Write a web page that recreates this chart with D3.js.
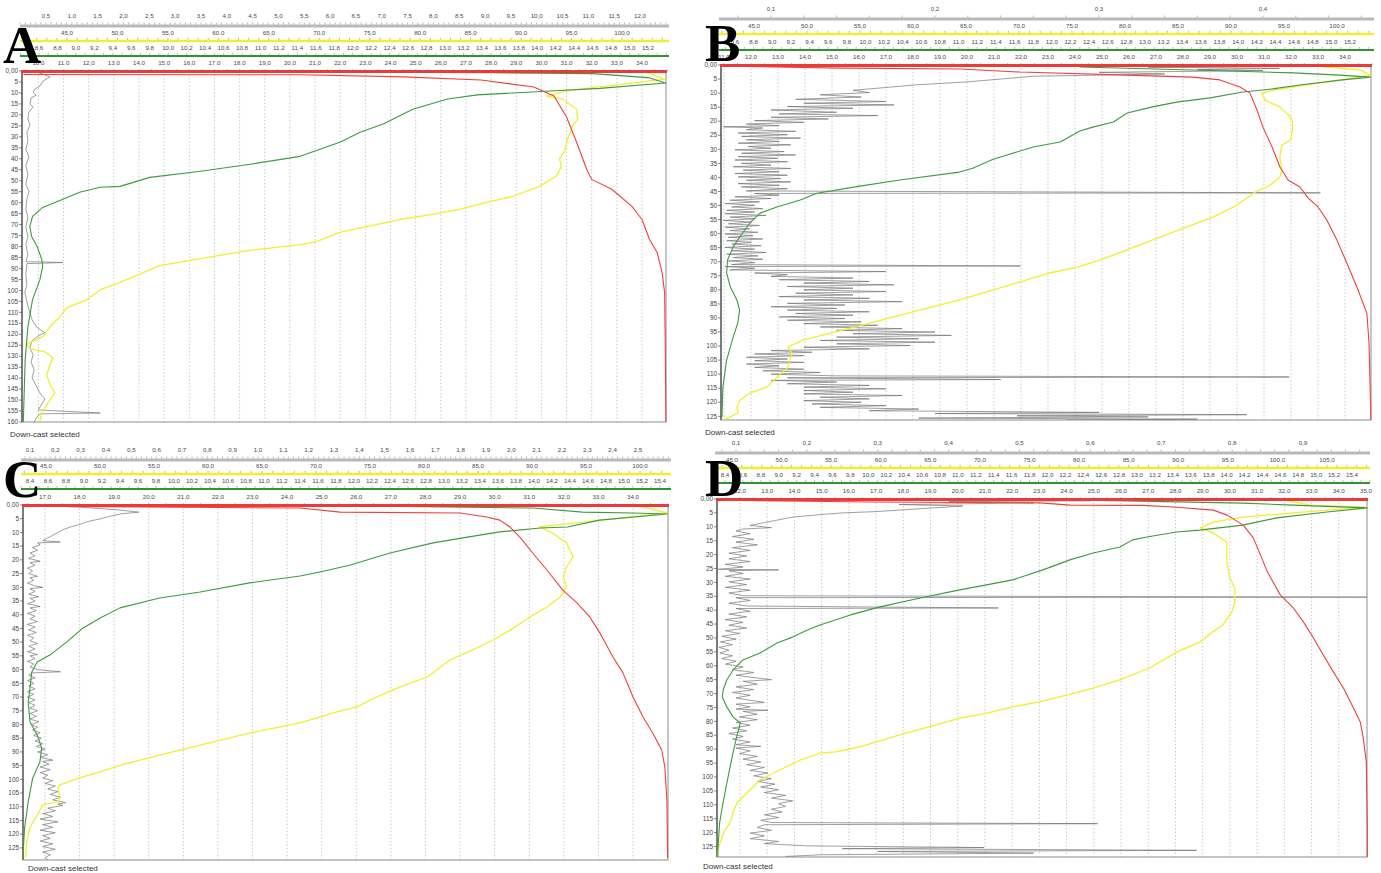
<!DOCTYPE html>
<html>
<head>
<meta charset="utf-8">
<script src="https://cdn.jsdelivr.net/npm/d3@7"></script>
<style>
  html, body { margin: 0; background: #fff; }
  svg { display: block; }
</style>
</head>
<body>
<svg id="chart" width="1381" height="873"></svg>
<script>
// ── Tick labels ───────────────────────────────────────────────────────────────
const temp86Ticks = [8.6,8.8,9.0,9.2,9.4,9.6,9.8,10.0,10.2,10.4,10.6,10.8,11.0,11.2,11.4,11.6,11.8,12.0,12.2,12.4,12.6,12.8,13.0,13.2,13.4,13.6,13.8,14.0,14.2,14.4,14.6,14.8,15.0,15.2];
const temp84Ticks = [8.4,8.6,8.8,9.0,9.2,9.4,9.6,9.8,10.0,10.2,10.4,10.6,10.8,11.0,11.2,11.4,11.6,11.8,12.0,12.2,12.4,12.6,12.8,13.0,13.2,13.4,13.6,13.8,14.0,14.2,14.4,14.6,14.8,15.0,15.2,15.4];
const oxy100Ticks = [45,50,55,60,65,70,75,80,85,90,95,100];
const oxy105Ticks = [45,50,55,60,65,70,75,80,85,90,95,100,105];
const depth160Ticks = [0,5,10,15,20,25,30,35,40,45,50,55,60,65,70,75,80,85,90,95,100,105,110,115,120,125,130,135,140,145,150,155,160];
const depth125Ticks = [0,5,10,15,20,25,30,35,40,45,50,55,60,65,70,75,80,85,90,95,100,105,110,115,120,125];

const aTurbTicks = [0.5,1.0,1.5,2.0,2.5,3.0,3.5,4.0,4.5,5.0,5.5,6.0,6.5,7.0,7.5,8.0,8.5,9.0,9.5,10.0,10.5,11.0,11.5,12.0];
const aSalTicks = [10,11,12,13,14,15,16,17,18,19,20,21,22,23,24,25,26,27,28,29,30,31,32,33,34];
const bTurbTicks = [0.1,0.2,0.3,0.4];
const bSalTicks = [11,12,13,14,15,16,17,18,19,20,21,22,23,24,25,26,27,28,29,30,31,32,33,34];
const cTurbTicks = [0.1,0.2,0.3,0.4,0.5,0.6,0.7,0.8,0.9,1.0,1.1,1.2,1.3,1.4,1.5,1.6,1.7,1.8,1.9,2.0,2.1,2.2,2.3,2.4,2.5];
const cSalTicks = [17,18,19,20,21,22,23,24,25,26,27,28,29,30,31,32,33,34];
const dTurbTicks = [0.1,0.2,0.3,0.4,0.5,0.6,0.7,0.8,0.9];
const dSalTicks = [12,13,14,15,16,17,18,19,20,21,22,23,24,25,26,27,28,29,30,31,32,33,34,35];

// ── Profiles: [depth m, value] ───────────────────────────────────────────────
// Panel A
const aSal = [[1.6,9.4],[1.7,20.4],[2.7,24.5],[4.1,27.6],[7.3,29.7],[11.4,30.5],[21.0,31.0],[32.5,31.4],[44.8,31.8],[49.4,32.0],[53.9,32.8],[61.7,33.6],[67.7,34.0],[76.8,34.3],[82.7,34.6],[91.9,34.8],[101,34.9],[130,34.93],[160,34.95]];
const aTemp = [[0.6,12.1],[0.8,13.5],[1.2,14.6],[3.0,15.2],[5.5,15.39],[7.9,14.68],[9.1,14.14],[10.9,13.35],[12.8,13.03],[17.4,12.65],[24.2,12.33],[27.9,12.08],[32.5,11.86],[38.9,11.43],[42.5,10.89],[45.7,10.35],[48.5,9.80],[52.6,9.48],[53.0,9.26],[55.3,9.04],[58.5,8.86],[62.2,8.64],[66.3,8.53],[70.9,8.50],[75.4,8.52],[80.0,8.58],[85.9,8.63],[89.1,8.64],[95.1,8.61],[104.2,8.53],[116.6,8.48],[131.7,8.45],[160,8.43]];
const aOxy = [[0.5,102.4],[3.7,104.2],[9.1,94.5],[11.4,92.5],[12.8,94.1],[17.4,95.5],[21.9,95.6],[25.1,95.1],[31.1,94.6],[36.6,94.3],[40.2,93.8],[43.4,94.0],[48.0,93.5],[52.6,91.8],[57.1,89.2],[59.9,86.6],[63.1,83.9],[65.4,81.2],[67.7,78.0],[70.9,74.7],[73.6,72.0],[77.7,69.8],[79.1,68.1],[81.8,63.1],[85.5,58.2],[88.7,54.2],[96.5,50.2],[99.7,48.3],[104.2,47.0],[107.9,45.0],[112.0,44.3],[116.6,43.3],[121.1,42.6],[124.5,41.0],[126.6,41.3],[128.0,42.8],[130.7,43.6],[134.0,43.3],[138.5,43.0],[143.0,43.3],[146.7,43.8],[151.3,43.1],[156.0,42.5],[160,42.3]];
const aTurb = [[0.5,0.33],[2.7,0.58],[4.6,0.44],[6.9,0.38],[8.2,0.29],[9.6,0.25],[11.0,0.31],[12.3,0.21],[15.1,0.19],[16.5,0.25],[18.7,0.17],[21.9,0.15],[24.7,0.19],[27.9,0.13],[32.0,0.15],[35.7,0.11],[39.3,0.17],[43.0,0.11],[47.1,0.15],[51.7,0.11],[54.9,0.17],[58.5,0.13],[63.1,0.11],[66.7,0.15],[71.3,0.11],[75.4,0.15],[79.1,0.11],[83.7,0.15],[86.9,0.11],[87.3,0.83],[87.8,0.13],[92.8,0.11],[97.4,0.13],[101.0,0.09],[105.1,0.13],[108.8,0.17],[113.4,0.23],[117.0,0.33],[119.3,0.48],[120.7,0.35],[123.0,0.23],[126.2,0.19],[129.4,0.25],[132.6,0.21],[136.2,0.27],[139.9,0.23],[143.5,0.31],[146.7,0.38],[149.5,0.48],[151.8,0.42],[154.5,0.35],[155.9,1.55],[156.3,0.38],[158.2,0.31],[160,0.27]];

// Panel B
const bSal = [[0.4,10.93],[1.1,15.3],[1.4,19.74],[2.5,21.96],[3.6,25.93],[4.3,28.37],[5.3,29.37],[7.8,30.11],[10.0,30.48],[16.0,30.74],[22.1,30.96],[29.2,31.30],[36.3,31.59],[40.9,31.89],[43.4,32.33],[47.3,32.63],[50.5,33.0],[55.2,33.33],[62.3,33.70],[70.5,34.07],[79.0,34.44],[88.3,34.81],[98.9,34.89],[126.3,34.96]];
const bTemp = [[0.7,12.30],[1.8,13.51],[2.8,14.59],[3.6,15.09],[4.3,15.42],[5.3,15.12],[7.1,14.66],[8.5,14.37],[9.6,14.05],[11.7,13.70],[13.2,13.34],[14.9,13.08],[17.1,12.81],[20.3,12.66],[22.1,12.44],[23.5,12.30],[27.4,12.09],[29.2,11.80],[32.0,11.52],[33.5,11.37],[36.7,11.15],[38.1,11.01],[40.9,10.37],[43.1,9.94],[45.6,9.48],[48.0,9.30],[50.5,9.05],[52.7,8.87],[56.2,8.76],[61.2,8.65],[64.8,8.58],[69.4,8.52],[74.0,8.51],[79.0,8.55],[83.6,8.62],[87.2,8.65],[91.8,8.63],[96.8,8.58],[105.0,8.51],[114.6,8.47],[125.3,8.46]];
const bOxy = [[0.7,98.7],[1.8,102.2],[3.6,103.2],[8.9,94.0],[10.0,92.9],[12.5,93.2],[14.9,94.6],[18.5,95.6],[20.3,95.8],[23.1,95.8],[26.7,95.6],[28.5,94.8],[32.7,94.6],[37.4,94.8],[39.9,94.6],[42.7,93.7],[45.6,92.1],[49.8,90.6],[54.1,88.3],[57.7,85.8],[61.2,83.3],[65.8,80.2],[69.4,77.6],[71.9,75.5],[74.0,72.9],[77.2,70.1],[80.1,67.5],[83.6,64.4],[89.0,58.8],[93.6,54.1],[97.9,49.6],[100.4,48.2],[102.5,48.6],[107.5,48.2],[111.0,47.2],[114.6,46.2],[116.7,44.6],[119.2,43.7],[121.7,43.4],[123.8,43.5],[125.3,42.7],[126.3,42.1]];
const bTurb = [[0.4,0.44],[0.8,0.33],[1.2,0.41],[1.6,0.36],[2.0,0.40],[2.6,0.30],[3.2,0.34],[4.0,0.26],[5.0,0.24],[6.0,0.22],[7.0,0.19],[8.0,0.17],[9.0,0.15],[9.8,0.16],[10.6,0.13],[11.4,0.155],[12.2,0.115],[13.0,0.17],[13.6,0.12],[14.2,0.175],[14.8,0.11],[15.4,0.15],[16.0,0.10],[16.8,0.14],[17.4,0.105],[18.0,0.165],[18.6,0.10],[19.2,0.135],[19.8,0.09],[20.4,0.12],[21.0,0.085],[21.6,0.105],[22.0,0.071],[22.4,0.095],[23.0,0.085],[23.6,0.115],[24.2,0.08],[24.8,0.11],[25.4,0.082],[26.0,0.118],[26.6,0.085],[27.2,0.105],[27.8,0.08],[28.4,0.112],[29.0,0.086],[29.6,0.10],[30.2,0.078],[30.8,0.108],[31.4,0.082],[32.0,0.115],[32.6,0.08],[33.2,0.104],[33.8,0.078],[34.4,0.11],[35.0,0.082],[35.6,0.10],[36.2,0.077],[36.8,0.112],[37.4,0.083],[38.0,0.105],[38.6,0.078],[39.2,0.11],[39.8,0.08],[40.4,0.106],[41.0,0.085],[41.6,0.112],[42.2,0.08],[42.8,0.105],[43.4,0.082],[44.0,0.11],[44.8,0.085],[45.5,0.435],[45.7,0.09],[46.3,0.105],[46.9,0.078],[47.5,0.10],[48.1,0.075],[48.7,0.093],[49.3,0.072],[49.9,0.09],[50.5,0.076],[51.1,0.095],[51.7,0.073],[52.3,0.09],[52.9,0.072],[53.5,0.097],[54.1,0.075],[54.7,0.09],[55.3,0.071],[55.9,0.088],[56.5,0.074],[57.1,0.093],[57.7,0.072],[58.3,0.087],[58.9,0.075],[59.5,0.092],[60.1,0.072],[60.7,0.089],[61.3,0.074],[61.9,0.095],[62.5,0.073],[63.1,0.088],[63.7,0.076],[64.3,0.094],[64.9,0.072],[65.5,0.09],[66.1,0.076],[66.7,0.097],[67.3,0.073],[67.9,0.092],[68.5,0.077],[69.1,0.095],[69.7,0.074],[70.3,0.09],[71.0,0.076],[71.5,0.252],[71.7,0.072],[72.3,0.09],[72.9,0.075],[73.5,0.17],[74.0,0.09],[74.6,0.11],[75.2,0.10],[75.8,0.15],[76.4,0.105],[77.0,0.16],[77.6,0.12],[78.2,0.175],[78.8,0.11],[79.4,0.15],[80.0,0.12],[80.6,0.17],[81.2,0.115],[81.8,0.15],[82.4,0.105],[83.0,0.16],[83.6,0.12],[84.2,0.18],[84.8,0.11],[85.4,0.145],[86.0,0.10],[86.6,0.14],[87.2,0.11],[87.8,0.16],[88.4,0.115],[89.0,0.15],[89.6,0.105],[90.2,0.145],[90.8,0.11],[91.4,0.155],[92.0,0.12],[92.6,0.165],[93.2,0.13],[93.8,0.18],[94.4,0.14],[95.0,0.20],[95.6,0.15],[96.2,0.21],[96.8,0.14],[97.4,0.19],[98.0,0.13],[98.6,0.20],[99.2,0.14],[99.8,0.185],[100.4,0.12],[101.0,0.16],[101.6,0.10],[102.2,0.125],[102.8,0.09],[103.4,0.12],[104.0,0.085],[104.6,0.11],[105.2,0.09],[105.8,0.12],[106.4,0.085],[107.0,0.105],[107.6,0.09],[108.2,0.12],[108.8,0.095],[109.4,0.13],[110.0,0.10],[110.6,0.14],[111.0,0.416],[111.3,0.11],[111.9,0.24],[112.2,0.10],[112.8,0.14],[113.4,0.11],[114.0,0.16],[114.6,0.12],[115.2,0.17],[115.8,0.12],[116.4,0.15],[117.0,0.12],[117.6,0.18],[118.2,0.13],[118.8,0.16],[119.4,0.12],[120.0,0.155],[120.6,0.125],[121.2,0.17],[121.8,0.13],[122.4,0.19],[123.0,0.16],[123.6,0.30],[124.0,0.20],[124.4,0.39],[124.8,0.25],[125.2,0.33],[125.6,0.19],[126.0,0.36],[126.3,0.28]];

// Panel C
const cSal = [[0.4,16.36],[1.1,24.37],[2.6,25.53],[2.9,29.0],[4.4,29.77],[5.5,30.15],[8.0,30.44],[11.7,30.73],[17.5,31.10],[23.7,31.51],[31.0,31.97],[35.7,32.38],[40.8,32.75],[46.6,33.04],[55.4,33.42],[61.2,33.71],[70.0,34.0],[77.3,34.29],[83.1,34.57],[89.3,34.83],[95.5,34.92],[107.5,34.98],[128.6,35.0]];
const cTemp = [[0.4,12.32],[1.1,13.99],[2.6,14.54],[2.9,15.10],[3.3,15.48],[5.5,14.73],[8.0,14.37],[8.4,14.07],[9.8,13.62],[11.7,13.26],[13.8,12.88],[17.5,12.40],[21.9,11.96],[24.4,11.62],[25.9,11.40],[28.4,10.84],[31.7,10.29],[33.9,9.84],[37.5,9.40],[41.2,9.18],[44.8,8.99],[49.9,8.81],[54.7,8.62],[57.2,8.48],[60.9,8.42],[66.7,8.40],[71.8,8.38],[79.1,8.40],[83.8,8.48],[88.6,8.53],[93.7,8.51],[99.5,8.43],[108.2,8.38],[117.7,8.34],[128.6,8.32]];
const cOxy = [[0.0,96.3],[0.7,100.3],[2.9,102.5],[8.0,90.7],[10.2,91.9],[13.8,93.2],[19.0,93.8],[22.6,93.2],[26.2,92.9],[29.9,93.2],[33.5,92.6],[37.2,91.4],[40.8,89.8],[45.6,88.0],[49.2,86.4],[52.8,84.5],[56.5,82.4],[62.7,80.3],[66.3,77.8],[70.0,75.6],[73.6,73.8],[75.8,71.6],[77.6,70.1],[79.4,68.5],[83.1,63.9],[87.5,59.3],[91.1,55.6],[94.8,51.9],[97.3,50.0],[99.5,48.1],[102.0,46.3],[103.1,46.1],[106.8,46.3],[108.2,46.1],[109.3,44.7],[113.0,44.2],[115.5,43.8],[117.7,43.5],[122.8,43.2],[128.6,43.1]];
const cTurb = [[0.2,0.15],[0.8,0.30],[1.8,0.45],[2.6,0.53],[3.2,0.46],[4.0,0.42],[5.0,0.38],[6.0,0.33],[7.0,0.30],[8.0,0.26],[9.0,0.23],[10.0,0.21],[11.0,0.19],[12.0,0.17],[13.0,0.15],[13.5,0.22],[13.8,0.13],[14.5,0.14],[15.5,0.11],[16.5,0.13],[17.5,0.10],[18.5,0.12],[19.5,0.095],[20.5,0.14],[21.0,0.10],[22.0,0.12],[23.0,0.09],[24.0,0.11],[25.0,0.095],[26.0,0.13],[26.5,0.10],[27.5,0.115],[28.5,0.09],[29.5,0.12],[30.0,0.15],[30.5,0.10],[31.5,0.12],[32.5,0.095],[33.5,0.135],[34.0,0.10],[35.0,0.12],[36.0,0.09],[37.0,0.14],[37.5,0.10],[38.5,0.125],[39.5,0.09],[40.5,0.12],[41.5,0.10],[42.5,0.13],[43.5,0.09],[44.5,0.12],[45.5,0.095],[46.5,0.125],[47.5,0.09],[48.5,0.115],[49.5,0.10],[50.5,0.13],[51.5,0.095],[52.5,0.12],[53.5,0.09],[54.5,0.13],[55.0,0.10],[56.0,0.12],[57.0,0.09],[58.0,0.115],[59.0,0.10],[60.0,0.13],[60.8,0.22],[61.2,0.11],[62.0,0.095],[63.0,0.12],[64.0,0.09],[65.0,0.115],[66.0,0.095],[67.0,0.12],[68.0,0.09],[69.0,0.115],[70.0,0.09],[71.0,0.12],[72.0,0.095],[73.0,0.12],[74.0,0.10],[75.0,0.13],[76.0,0.10],[77.0,0.125],[78.0,0.10],[79.0,0.135],[80.0,0.105],[81.0,0.13],[82.0,0.11],[83.0,0.14],[84.0,0.115],[85.0,0.145],[86.0,0.12],[87.0,0.15],[88.0,0.125],[89.0,0.16],[90.0,0.13],[91.0,0.17],[92.0,0.14],[93.0,0.19],[93.5,0.15],[94.5,0.175],[95.5,0.14],[96.5,0.18],[97.5,0.14],[98.5,0.17],[99.5,0.15],[100.5,0.19],[101.5,0.16],[102.5,0.20],[103.5,0.17],[104.5,0.21],[105.5,0.18],[106.5,0.22],[107.5,0.19],[108.5,0.24],[109.0,0.21],[109.5,0.23],[110.5,0.17],[111.5,0.20],[112.5,0.15],[113.5,0.19],[114.5,0.14],[115.5,0.21],[116.5,0.15],[117.5,0.19],[118.5,0.14],[119.5,0.20],[120.5,0.15],[121.5,0.18],[122.5,0.14],[123.5,0.19],[124.5,0.15],[125.5,0.20],[126.5,0.15],[127.5,0.18],[128.5,0.16],[129.3,0.17]];

// Panel D
const dSal = [[0.4,11.15],[1.1,16.78],[1.4,23.03],[2.2,24.13],[2.3,26.82],[2.9,27.92],[4.0,29.39],[5.8,29.90],[9.4,30.49],[14.0,30.86],[20.1,31.12],[26.3,31.38],[34.5,31.85],[39.2,32.33],[44.2,32.70],[50.0,33.07],[56.1,33.43],[62.2,33.80],[68.0,34.17],[75.2,34.54],[80.2,34.79],[86.0,34.90],[94.6,35.01],[118.3,35.05],[128.8,35.05]];
const dTemp = [[0.4,12.44],[1.5,14.18],[2.2,14.74],[3.2,15.57],[4.7,15.12],[6.8,14.56],[9.4,14.18],[11.2,13.70],[11.9,13.44],[13.7,13.11],[14.7,12.95],[17.3,12.81],[19.4,12.51],[21.9,12.25],[25.5,11.95],[29.1,11.61],[30.9,11.32],[32.7,11.02],[35.6,10.58],[38.8,10.13],[41.7,9.80],[45.3,9.46],[47.1,9.32],[49.6,9.16],[51.8,8.98],[55.4,8.79],[57.9,8.60],[61.5,8.49],[65.1,8.42],[68.7,8.38],[71.2,8.37],[74.8,8.42],[78.4,8.49],[80.6,8.57],[85.6,8.53],[92.8,8.48],[102.2,8.42],[110.8,8.37],[116.5,8.34],[126.3,8.32],[128.8,8.32]];
const dOxy = [[0.0,100.2],[2.2,103.3],[2.9,109.0],[5.0,101.6],[6.5,96.5],[8.3,93.5],[10.4,92.2],[12.2,93.5],[15.5,94.9],[22.7,94.9],[28.4,95.2],[32.0,95.7],[37.1,95.7],[40.6,95.4],[45.3,94.5],[47.8,93.5],[51.4,92.2],[55.0,89.9],[60.8,87.1],[65.1,84.1],[68.0,81.4],[70.5,78.8],[73.0,76.0],[74.8,73.3],[77.0,70.7],[78.8,68.0],[84.9,61.9],[89.2,57.9],[90.3,56.4],[91.0,55.4],[91.4,53.9],[93.9,51.9],[97.5,49.8],[101.1,47.8],[105.8,46.5],[109.4,45.5],[112.9,45.1],[116.5,44.8],[119.1,44.3],[121.6,44.0],[123.7,43.8],[126.3,43.6],[128.8,43.5]];
const dTurb = [[0.3,0.30],[0.6,0.60],[1.0,0.40],[1.4,0.52],[2.0,0.33],[2.5,0.42],[3.5,0.36],[4.5,0.30],[5.0,0.25],[5.6,0.22],[6.5,0.18],[7.5,0.16],[8.5,0.14],[9.5,0.12],[10.3,0.15],[10.8,0.11],[11.5,0.10],[12.5,0.12],[13.5,0.095],[14.5,0.125],[15.5,0.10],[16.5,0.13],[17.5,0.095],[18.5,0.12],[19.5,0.09],[20.5,0.115],[21.5,0.09],[22.5,0.12],[23.5,0.085],[24.5,0.11],[25.3,0.075],[25.5,0.16],[25.8,0.09],[26.8,0.11],[27.8,0.085],[28.8,0.12],[29.8,0.09],[30.8,0.115],[31.8,0.085],[32.8,0.12],[33.8,0.09],[34.8,0.11],[35.3,0.99],[35.5,0.10],[36.5,0.12],[37.5,0.09],[38.5,0.115],[39.2,0.47],[39.4,0.10],[40.4,0.12],[41.4,0.09],[42.4,0.115],[43.4,0.085],[44.4,0.11],[45.4,0.09],[46.4,0.115],[47.4,0.085],[48.4,0.105],[49.4,0.08],[50.4,0.10],[51.4,0.078],[52.4,0.095],[53.4,0.076],[54.4,0.09],[55.4,0.077],[56.4,0.095],[57.4,0.08],[58.4,0.10],[59.4,0.085],[60.4,0.11],[61.4,0.095],[62.4,0.125],[63.4,0.10],[64.4,0.13],[65.0,0.15],[65.6,0.11],[66.6,0.13],[67.6,0.10],[68.6,0.125],[69.6,0.095],[70.6,0.12],[71.6,0.10],[72.6,0.125],[73.2,0.14],[73.8,0.10],[74.8,0.12],[75.6,0.10],[76.0,0.145],[76.4,0.11],[77.4,0.13],[78.4,0.105],[79.4,0.13],[80.4,0.10],[81.4,0.12],[82.4,0.095],[83.4,0.115],[84.4,0.09],[85.4,0.11],[86.4,0.095],[87.4,0.12],[88.4,0.10],[89.0,0.135],[89.6,0.10],[90.6,0.12],[91.6,0.105],[92.6,0.13],[93.6,0.11],[94.6,0.135],[95.6,0.115],[96.6,0.14],[97.6,0.12],[98.6,0.145],[99.6,0.125],[100.6,0.15],[101.6,0.13],[102.6,0.155],[103.6,0.135],[104.6,0.16],[105.6,0.14],[106.6,0.17],[107.6,0.15],[108.6,0.18],[109.6,0.16],[110.6,0.17],[111.6,0.15],[112.6,0.165],[113.6,0.14],[114.6,0.16],[115.6,0.135],[116.4,0.15],[116.8,0.61],[117.2,0.14],[118.2,0.13],[119.2,0.15],[120.2,0.12],[121.2,0.14],[122.2,0.12],[123.2,0.16],[124.0,0.14],[124.8,0.20],[125.4,0.45],[125.8,0.25],[126.4,0.75],[126.8,0.30],[127.4,0.52],[128.0,0.22],[128.6,0.17]];

// ── Panel layout (pixel frames + two-point scale anchors [v1, px1, v2, px2]) ──
const panels = [
  { letter: "A", x0: 22, x1: 666, top: 71, bottom: 422, depthMax: 160, greyY: 26, yellowY: 41, greenY: 56,
    salA: [10, 38.4, 34, 642], tempA: [8.6, 39, 15.2, 648], oxyA: [45, 67, 100, 622], turbA: [0.5, 46, 12, 640],
    salTicks: aSalTicks, tempTicks: temp86Ticks, oxyTicks: oxy100Ticks, turbTicks: aTurbTicks, depthTicks: depth160Ticks,
    sal: aSal, temp: aTemp, oxy: aOxy, turb: aTurb, letterX: 3, letterY: 63, capX: 10, capY: 437 },
  { letter: "B", x0: 721, x1: 1371, top: 65, bottom: 420, depthMax: 126.3, greyY: 19, yellowY: 34, greenY: 50,
    salA: [12, 751, 34, 1345], tempA: [8.6, 735, 15.2, 1350], oxyA: [45, 754, 100, 1337], turbA: [0.1, 771, 0.4, 1263],
    salTicks: bSalTicks, tempTicks: temp86Ticks, oxyTicks: oxy100Ticks, turbTicks: bTurbTicks, depthTicks: depth125Ticks,
    sal: bSal, temp: bTemp, oxy: bOxy, turb: bTurb, letterX: 705, letterY: 61, capX: 705, capY: 435 },
  { letter: "C", x0: 23, x1: 668, top: 505, bottom: 860, depthMax: 129.4, greyY: 460, yellowY: 474, greenY: 489,
    salA: [17, 45, 34, 633], tempA: [8.4, 30, 15.4, 660], oxyA: [45, 46, 100, 640], turbA: [0.1, 30, 2.5, 638],
    salTicks: cSalTicks, tempTicks: temp84Ticks, oxyTicks: oxy100Ticks, turbTicks: cTurbTicks, depthTicks: depth125Ticks,
    sal: cSal, temp: cTemp, oxy: cOxy, turb: cTurb, letterX: 3, letterY: 497, capX: 28, capY: 871 },
  { letter: "D", x0: 717, x1: 1367, top: 499, bottom: 857, depthMax: 128.8, greyY: 453, yellowY: 468, greenY: 483,
    salA: [12, 740, 35, 1366], tempA: [8.4, 725, 15.4, 1352], oxyA: [45, 732, 105, 1327], turbA: [0.1, 736, 0.9, 1303],
    salTicks: dSalTicks, tempTicks: temp84Ticks, oxyTicks: oxy105Ticks, turbTicks: dTurbTicks, depthTicks: depth125Ticks,
    sal: dSal, temp: dTemp, oxy: dOxy, turb: dTurb, letterX: 705, letterY: 496, capX: 703, capY: 869 },
];

const COLORS = { sal: "#ee4040", temp: "#3f9a3f", oxy: "#f2ee2e", turb: "#707070", axisGrey: "#b9b9b9" };
const FONT = "'Liberation Sans', Arial, sans-serif";

const svg = d3.select("#chart");
const comma = (v) => d3.format(".1f")(v).replace(".", ",");
const anchorScale = (a) => d3.scaleLinear().domain([a[0], a[2]]).range([a[1], a[3]]);

// one coloured top axis: tick marks, coloured line, labels above
function drawRow(g, p, scale, ticks, y, color, width, labelGap, minorStep) {
  const xa = p.x0 - 2, xb = p.x1 + 3;
  const lo = scale.invert(xa), hi = scale.invert(xb);
  const minors = d3.range(Math.ceil(lo / minorStep) * minorStep, hi, minorStep);
  if (color) {
    g.append("line").attr("x1", xa).attr("x2", xb).attr("y1", y).attr("y2", y)
      .attr("stroke", color).attr("stroke-width", width);
  }
  g.append("g").selectAll("line").data(minors).join("line")
    .attr("x1", (d) => scale(d)).attr("x2", (d) => scale(d))
    .attr("y1", y - width / 2 - 2).attr("y2", y - width / 2)
    .attr("stroke", "#8c8c8c").attr("stroke-width", 0.6);
  g.append("g").selectAll("text").data(ticks).join("text")
    .attr("x", (d) => scale(d)).attr("y", y - labelGap)
    .attr("text-anchor", "middle").attr("font-family", FONT)
    .attr("font-size", 6.2).attr("fill", "#4a4a4a")
    .text(comma);
}

function drawPanel(p, i) {
  const g = svg.append("g").attr("class", "panel-" + p.letter);
  const sal = anchorScale(p.salA);
  const temp = anchorScale(p.tempA);
  const oxy = anchorScale(p.oxyA);
  const turb = anchorScale(p.turbA);
  const depth = d3.scaleLinear().domain([0, p.depthMax]).range([p.top, p.bottom]);

  // ── Dotted salinity grid
  g.append("g").selectAll("line")
    .data(p.salTicks.filter((v) => sal(v) > p.x0 + 2 && sal(v) < p.x1 - 2))
    .join("line")
    .attr("x1", (d) => sal(d)).attr("x2", (d) => sal(d))
    .attr("y1", p.top).attr("y2", p.bottom)
    .attr("stroke", "#bdbdbd").attr("stroke-width", 0.8)
    .attr("stroke-dasharray", "1.5,2");

  // ── Plot frame
  g.append("rect").attr("x", p.x0).attr("y", p.top)
    .attr("width", p.x1 - p.x0).attr("height", p.bottom - p.top)
    .attr("fill", "none").attr("stroke", "#a0a0a0").attr("stroke-width", 1.2);
  g.append("line").attr("x1", p.x0).attr("x2", p.x0).attr("y1", p.top).attr("y2", p.bottom)
    .attr("stroke", "#6a6a6a").attr("stroke-width", 1.6);

  // ── Depth axis
  const dAxis = g.append("g");
  dAxis.selectAll("line").data(p.depthTicks).join("line")
    .attr("x1", p.x0 - 3).attr("x2", p.x0)
    .attr("y1", (d) => depth(d)).attr("y2", (d) => depth(d))
    .attr("stroke", "#555").attr("stroke-width", 0.7);
  dAxis.selectAll("text").data(p.depthTicks).join("text")
    .attr("x", p.x0 - 4).attr("y", (d) => depth(d) + 2.2)
    .attr("text-anchor", "end").attr("font-family", FONT)
    .attr("font-size", 6.4).attr("fill", "#444")
    .text((d) => (d === 0 ? "0,00" : d));

  // ── Profiles (clipped to the frame)
  const clipId = "clip-" + i;
  svg.append("clipPath").attr("id", clipId).append("rect")
    .attr("x", p.x0).attr("y", p.top - 1).attr("width", p.x1 - p.x0 + 1).attr("height", p.bottom - p.top + 1);
  const traces = g.append("g").attr("clip-path", `url(#${clipId})`);
  const series = [
    { data: p.turb, x: turb, color: COLORS.turb, w: 0.8, op: 0.85 },
    { data: p.oxy, x: oxy, color: COLORS.oxy, w: 1.3, op: 1 },
    { data: p.temp, x: temp, color: COLORS.temp, w: 1.1, op: 1 },
    { data: p.sal, x: sal, color: COLORS.sal, w: 1.1, op: 1 },
  ];
  series.forEach((s) => {
    traces.append("path").datum(s.data)
      .attr("fill", "none").attr("stroke", s.color)
      .attr("stroke-width", s.w).attr("stroke-opacity", s.op)
      .attr("stroke-linejoin", "round")
      .attr("d", d3.line().x((d) => s.x(d[1])).y((d) => depth(d[0])));
  });

  // ── Stacked top axes
  drawRow(g, p, turb, p.turbTicks, p.greyY, COLORS.axisGrey, 3, 8, (p.turbTicks[1] - p.turbTicks[0]) / 5);
  drawRow(g, p, oxy, p.oxyTicks, p.yellowY, COLORS.oxy, 2.4, 6.5, 1);
  drawRow(g, p, temp, p.tempTicks, p.greenY, "#2f962f", 2.2, 6.5, 0.1);
  drawRow(g, p, sal, p.salTicks, p.top, null, 0, 6, 0.5);
  g.append("line").attr("x1", p.x0 - 1).attr("x2", p.x1 + 1).attr("y1", p.top + 0.5).attr("y2", p.top + 0.5)
    .attr("stroke", "#ec3a3a").attr("stroke-width", 3);

  // ── Caption and panel letter
  g.append("text").attr("x", p.capX).attr("y", p.capY)
    .attr("font-family", FONT).attr("font-size", 8).attr("fill", "#333")
    .text("Down-cast selected");
  g.append("text").attr("x", p.letterX).attr("y", p.letterY)
    .attr("font-family", "'Liberation Serif', 'DejaVu Serif', serif")
    .attr("font-weight", "bold").attr("font-size", 53).attr("fill", "#000")
    .text(p.letter);
}

panels.forEach(drawPanel);
</script>
</body>
</html>
